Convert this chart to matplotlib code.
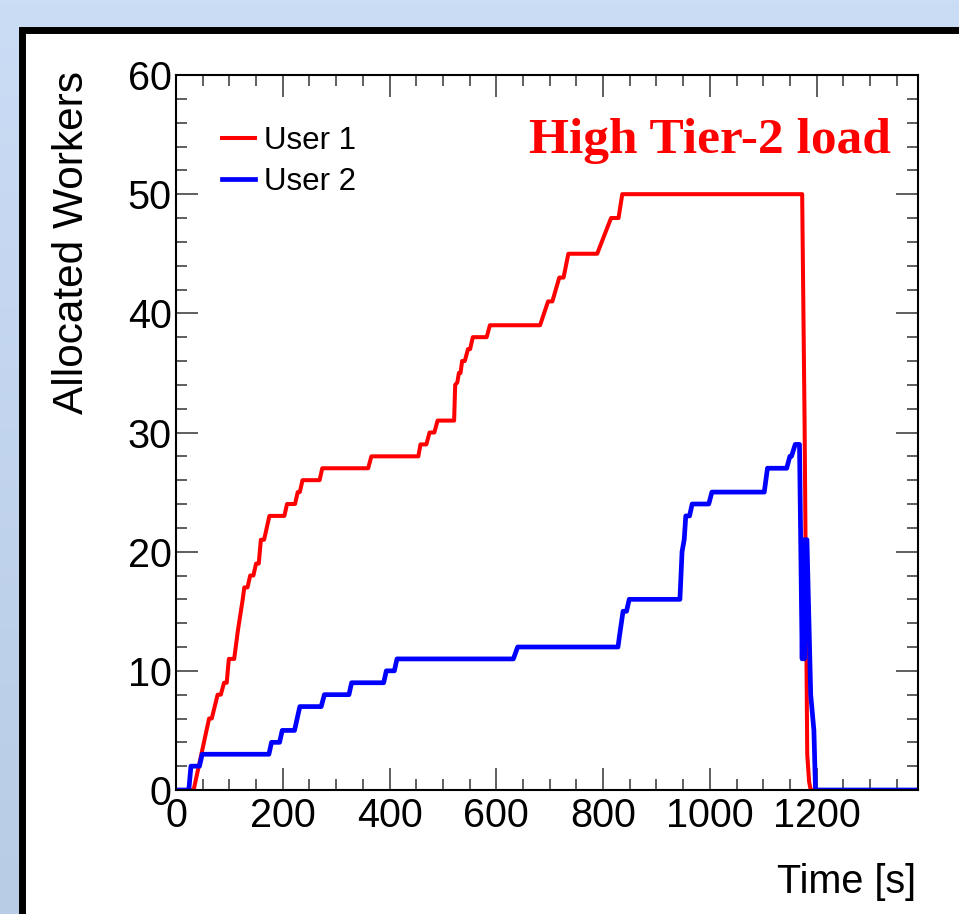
import numpy as np
import matplotlib.pyplot as plt
from matplotlib.patches import Rectangle
from matplotlib.ticker import MultipleLocator
from matplotlib.colors import LinearSegmentedColormap

plt.rcParams['font.family'] = ['Liberation Sans', 'DejaVu Sans']

# User 1 (red) - czas [s], liczba workerow
t_user1 = [0, 33, 62, 67, 78, 84, 90, 95, 99, 109, 116, 125, 128, 134, 139, 145,
           150, 155, 159, 165, 175, 203, 208, 223, 228, 232, 237, 269, 274, 360,
           366, 454, 458, 469, 475, 484, 490, 521, 523, 527, 530, 533, 536, 541,
           547, 551, 556, 582, 588, 682, 697, 705, 718, 726, 735, 789, 815, 829,
           836, 1173, 1177.5, 1182.5, 1186, 1189, 1390]
w_user1 = [0, 0, 6, 6, 8, 8, 9, 9, 11, 11, 13.4, 16, 17, 17, 18, 18,
           19, 19, 21, 21, 23, 23, 24, 24, 25, 25, 26, 26, 27, 27,
           28, 28, 29, 29, 30, 30, 31, 31, 34, 34.2, 35, 35, 36, 36,
           37, 37, 38, 38, 39, 39, 41, 41, 43, 43, 45, 45, 48, 48,
           50, 50, 31, 3, 0.7, 0, 0]

# User 2 (blue)
t_user2 = [0, 24, 28, 44, 49, 174, 179, 194, 199, 222, 232, 272, 278, 324, 329,
           389, 394, 409, 414, 632, 640, 828, 831, 837.5, 844, 849, 944, 948,
           952, 955, 962, 967, 998, 1004, 1102, 1108, 1144, 1150, 1153, 1160,
           1168, 1173, 1175, 1177, 1179, 1182, 1189, 1195, 1198, 1390]
w_user2 = [0, 0, 2, 2, 3, 3, 4, 4, 5, 5, 7, 7, 8, 8, 9,
           9, 10, 10, 11, 11, 12, 12, 13, 15, 15, 16, 16, 20,
           21, 23, 23, 24, 24, 25, 25, 27, 27, 28, 28, 29,
           29, 11, 21, 11, 21, 21, 8, 5, 0, 0]

fig = plt.figure(figsize=(9.59, 9.14), dpi=100)

# tlo slajdu - niebieski gradient
bg = fig.add_axes([0, 0, 1, 1])
grad = np.linspace(0, 1, 256).reshape(-1, 1)
cmap_bg = LinearSegmentedColormap.from_list('bg', ['#cbdcf5', '#b8cce6'])
bg.imshow(grad, aspect='auto', cmap=cmap_bg, extent=[0, 1, 0, 1], origin='upper')
bg.set_axis_off()
bg.set_zorder(0)

# czarna ramka panelu
frame = Rectangle((21.5 / 959, -0.5), 2.0, (1 - 29.5 / 914) + 0.5,
                  transform=fig.transFigure, facecolor='white',
                  edgecolor='black', linewidth=5.0, zorder=1)
fig.add_artist(frame)

ax = fig.add_axes([176 / 959, (914 - 790) / 914, 742 / 959, 715 / 914])
ax.set_zorder(2)
ax.set_facecolor('white')

ax.plot(t_user1, w_user1, color='#ff0000', lw=2.9, label='User 1')
ax.plot(t_user2, w_user2, color='#0000ff', lw=3.4, label='User 2')

ax.set_xlim(0, 1390)
ax.set_ylim(0, 60)
ax.xaxis.set_major_locator(MultipleLocator(200))
ax.xaxis.set_minor_locator(MultipleLocator(50))
ax.yaxis.set_major_locator(MultipleLocator(10))
ax.yaxis.set_minor_locator(MultipleLocator(2))
ax.set_xticks([0, 200, 400, 600, 800, 1000, 1200])

ax.tick_params(which='both', direction='in', top=True, right=True,
               color='#333333', width=1.1, labelsize=28.5)
ax.tick_params(which='major', length=16)
ax.tick_params(which='minor', length=8)
ax.tick_params(axis='x', pad=5)
ax.tick_params(axis='y', pad=3)
for s in ax.spines.values():
    s.set_linewidth(1.5)

ax.set_ylabel('Allocated Workers', fontsize=30.5, loc='top')
ax.yaxis.set_label_coords(-0.113, 1.005)
ax.set_xlabel('Time [s]', fontsize=28.5, loc='right')
ax.xaxis.set_label_coords(0.997, -0.102)

ax.legend(loc='upper left', bbox_to_anchor=(222 / 959, 1 - 126 / 914),
          bbox_transform=fig.transFigure, frameon=False, fontsize=22.5,
          handlelength=1.05, handletextpad=0.3, labelspacing=0.35,
          borderpad=0, borderaxespad=0)

fig.text(891 / 959, 1 - 153 / 914, 'High Tier-2 load', color='#ff0000',
         fontsize=37, fontweight='bold', family='Liberation Serif',
         ha='right', va='baseline', zorder=5)

plt.savefig('out.png', dpi=100)
